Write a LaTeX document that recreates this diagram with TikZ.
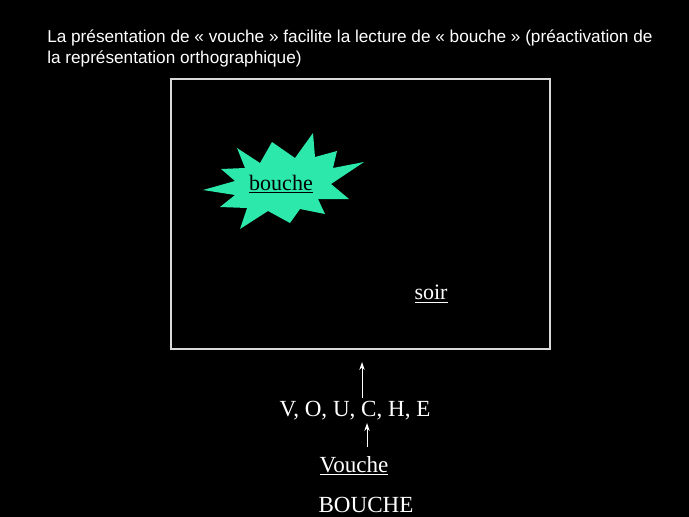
\documentclass[tikz,border=0pt]{standalone}
\usepackage{fontspec}
\setmainfont{Liberation Serif}
\newfontfamily\arialfont{Liberation Sans}
\usetikzlibrary{arrows.meta}
\definecolor{stargreen}{RGB}{44,232,170}
\tikzset{
  word/.style={font=\fontsize{16.5pt}{19pt}\selectfont, inner sep=0pt, text=white},
  bigword/.style={font=\fontsize{17.3pt}{20pt}\selectfont, inner sep=0pt, text=white},
  uparrow/.style={draw=white, line width=0.75pt, -{Stealth[length=6pt,width=4pt]}},
}
\begin{document}
\begin{tikzpicture}[x=0.75pt,y=-0.75pt]
\useasboundingbox (0,0) rectangle (689,517);
\fill[black] (0,0) rectangle (689,517);
% title
\node[anchor=north west, inner sep=0pt, text=white, align=left,
      font=\arialfont\fontsize{12.9pt}{15.8pt}\selectfont] (title) at (47,30)
  {La présentation de « vouche » facilite la lecture de « bouche » (préactivation de\\la représentation orthographique)};
% frame
\draw[draw=white!85!black, line width=0.9pt] (171,79) rectangle (550,349);
\coordinate (framebottom) at (362,362);
% starburst
\fill[stargreen] (237,148) -- (260,163) -- (272,142) -- (295,158) -- (313,133) -- (315,157)
  -- (337,151) -- (333,168) -- (364,162) -- (331,184) -- (349,199) -- (318,199)
  -- (325,214) -- (300,209) -- (290,223) -- (268,211) -- (240,229) -- (247,208)
  -- (220,207) -- (235,195) -- (203,190) -- (235,181) -- (221,169) -- (245,168) -- cycle;
\node[word, text=black] (bouche) at (281,184) {\underline{bouche}};
\node[word] (soir) at (431,294) {\underline{soir}};
% letters
\node[bigword] (letters) at (355,411) {V, O, U, C, H, E};
\node[bigword] (vouche) at (354,466) {\underline{Vouche}};
\node[bigword] (boucheup) at (366,505) {BOUCHE};
\coordinate (a1s) at (362,398);
\coordinate (a2s) at (367,447);
\coordinate (a2e) at (367,423);
\draw[uparrow] (a1s) -- (framebottom);
\draw[uparrow] (a2s) -- (a2e);
\end{tikzpicture}
\end{document}
